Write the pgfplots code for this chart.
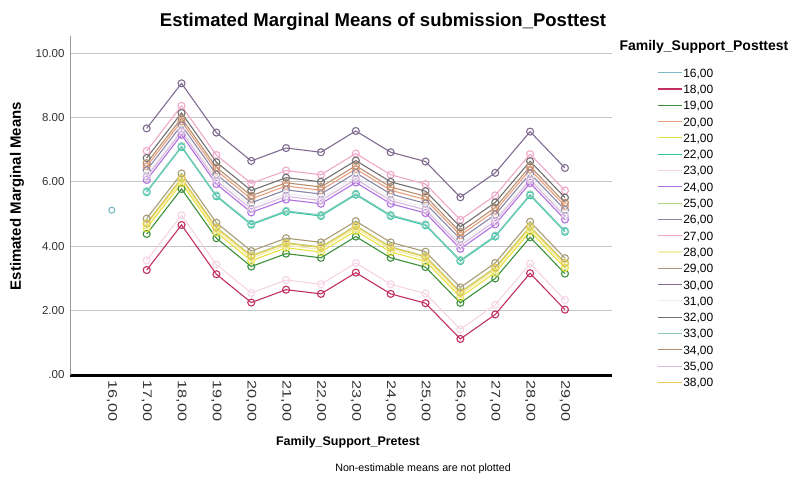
\documentclass[border=0pt]{standalone}
\usepackage{pgfplots}
\pgfplotsset{compat=1.18}
\usepackage{fontspec}
\setmainfont{Liberation Sans}
\definecolor{c16}{HTML}{7EB8C8}
\definecolor{c18}{HTML}{C2305E}
\definecolor{c19}{HTML}{3C8F3C}
\definecolor{c20}{HTML}{E8A080}
\definecolor{c21}{HTML}{E8E040}
\definecolor{c22}{HTML}{2CC8A0}
\definecolor{c23}{HTML}{F5D5E5}
\definecolor{c24}{HTML}{B070E0}
\definecolor{c25}{HTML}{A8D888}
\definecolor{c26}{HTML}{8888A8}
\definecolor{c27}{HTML}{F0A8C8}
\definecolor{c28}{HTML}{F0EEB0}
\definecolor{c29}{HTML}{A89C78}
\definecolor{c30}{HTML}{806C90}
\definecolor{c31}{HTML}{EEEEEE}
\definecolor{c32}{HTML}{707070}
\definecolor{c33}{HTML}{8CCCC0}
\definecolor{c34}{HTML}{B89070}
\definecolor{c35}{HTML}{D8B8E0}
\definecolor{c38}{HTML}{ECC850}
\begin{document}
\begin{tikzpicture}
\useasboundingbox (0pt,0pt) rectangle (790pt,-479pt);
\begin{axis}[
  scale only axis, width=542pt, height=339pt,
  anchor=south west, at={(70pt,-375pt)},
  xmin=14.8, xmax=30.35, ymin=0, ymax=10.53,
  axis x line*=bottom, axis y line*=left,
  x axis line style={black, line width=3pt, -},
  y axis line style={gray!80, line width=0.8pt, -},
  xtick={16,...,29},
  xticklabels={{16,00},{17,00},{18,00},{19,00},{20,00},{21,00},{22,00},{23,00},{24,00},{25,00},{26,00},{27,00},{28,00},{29,00}},
  x tick label style={rotate=-90, xscale=1.3, anchor=west, font=\fontsize{12.5}{12.5}\selectfont, color=black!80},
  xticklabel shift=1pt,
  ytick={0,2,4,6,8,10},
  yticklabels={.00,2.00,4.00,6.00,8.00,10.00},
  y tick label style={font=\fontsize{11.5}{11.5}\selectfont, color=black!80},
  yticklabel shift=2pt,
  major tick length=0pt,
  ymajorgrids, grid style={gray!45, line width=1pt},
  legend cell align=left,
  legend style={at={(1.083,0.9086)}, anchor=north west, draw=none, fill=none,
    font=\fontsize{12}{12}\selectfont, row sep=5.3pt, inner sep=0pt,
    nodes={inner sep=1pt, text height=9pt, text depth=0pt}},
  legend image code/.code={\draw[#1, mark=none, line width=0.8pt] (0pt,0pt) -- (21pt,0pt); \path (0pt,0pt) -- (24pt,0pt);},
  every axis plot/.append style={line width=1.1pt, mark=o, mark size=3.5pt, mark options={solid}},
]
\addplot[c16, only marks, mark size=3pt] coordinates {(16,5.12)};
\addlegendentry{16,00}
\addplot[c18] coordinates {(17,3.26)(18,4.66)(19,3.13)(20,2.25)(21,2.65)(22,2.52)(23,3.18)(24,2.52)(25,2.23)(26,1.12)(27,1.88)(28,3.16)(29,2.03)};
\addlegendentry{18,00}
\addplot[c19] coordinates {(17,4.38)(18,5.78)(19,4.25)(20,3.37)(21,3.77)(22,3.64)(23,4.30)(24,3.64)(25,3.35)(26,2.24)(27,3.00)(28,4.28)(29,3.15)};
\addlegendentry{19,00}
\addplot[c20] coordinates {(17,6.48)(18,7.88)(19,6.35)(20,5.47)(21,5.87)(22,5.74)(23,6.40)(24,5.74)(25,5.45)(26,4.34)(27,5.10)(28,6.38)(29,5.25)};
\addlegendentry{20,00}
\addplot[c21] coordinates {(17,4.56)(18,5.96)(19,4.43)(20,3.55)(21,3.95)(22,3.82)(23,4.48)(24,3.82)(25,3.53)(26,2.42)(27,3.18)(28,4.46)(29,3.33)};
\addlegendentry{21,00}
\addplot[c22] coordinates {(17,5.68)(18,7.08)(19,5.55)(20,4.67)(21,5.07)(22,4.94)(23,5.60)(24,4.94)(25,4.65)(26,3.54)(27,4.30)(28,5.58)(29,4.45)};
\addlegendentry{22,00}
\addplot[c23] coordinates {(17,3.56)(18,4.96)(19,3.43)(20,2.55)(21,2.95)(22,2.82)(23,3.48)(24,2.82)(25,2.53)(26,1.42)(27,2.18)(28,3.46)(29,2.33)};
\addlegendentry{23,00}
\addplot[c24] coordinates {(17,6.06)(18,7.46)(19,5.93)(20,5.05)(21,5.45)(22,5.32)(23,5.98)(24,5.32)(25,5.03)(26,3.92)(27,4.68)(28,5.96)(29,4.83)};
\addlegendentry{24,00}
\addplot[c25] coordinates {(17,4.72)(18,6.12)(19,4.59)(20,3.71)(21,4.11)(22,3.98)(23,4.64)(24,3.98)(25,3.69)(26,2.58)(27,3.34)(28,4.62)(29,3.49)};
\addlegendentry{25,00}
\addplot[c26] coordinates {(17,6.36)(18,7.76)(19,6.23)(20,5.35)(21,5.75)(22,5.62)(23,6.28)(24,5.62)(25,5.33)(26,4.22)(27,4.98)(28,6.26)(29,5.13)};
\addlegendentry{26,00}
\addplot[c27] coordinates {(17,6.96)(18,8.36)(19,6.83)(20,5.95)(21,6.35)(22,6.22)(23,6.88)(24,6.22)(25,5.93)(26,4.82)(27,5.58)(28,6.86)(29,5.73)};
\addlegendentry{27,00}
\addplot[c28] coordinates {(17,4.64)(18,6.04)(19,4.51)(20,3.63)(21,4.03)(22,3.90)(23,4.56)(24,3.90)(25,3.61)(26,2.50)(27,3.26)(28,4.54)(29,3.41)};
\addlegendentry{28,00}
\addplot[c29] coordinates {(17,4.86)(18,6.26)(19,4.73)(20,3.85)(21,4.25)(22,4.12)(23,4.78)(24,4.12)(25,3.83)(26,2.72)(27,3.48)(28,4.76)(29,3.63)};
\addlegendentry{29,00}
\addplot[c30] coordinates {(17,7.66)(18,9.06)(19,7.53)(20,6.65)(21,7.05)(22,6.92)(23,7.58)(24,6.92)(25,6.63)(26,5.52)(27,6.28)(28,7.56)(29,6.43)};
\addlegendentry{30,00}
\addplot[c31] coordinates {(17,6.24)(18,7.64)(19,6.11)(20,5.23)(21,5.63)(22,5.50)(23,6.16)(24,5.50)(25,5.21)(26,4.10)(27,4.86)(28,6.14)(29,5.01)};
\addlegendentry{31,00}
\addplot[c32] coordinates {(17,6.74)(18,8.14)(19,6.61)(20,5.73)(21,6.13)(22,6.00)(23,6.66)(24,6.00)(25,5.71)(26,4.60)(27,5.36)(28,6.64)(29,5.51)};
\addlegendentry{32,00}
\addplot[c33] coordinates {(17,5.71)(18,7.11)(19,5.58)(20,4.70)(21,5.10)(22,4.97)(23,5.63)(24,4.97)(25,4.68)(26,3.57)(27,4.33)(28,5.61)(29,4.48)};
\addlegendentry{33,00}
\addplot[c34] coordinates {(17,6.58)(18,7.98)(19,6.45)(20,5.57)(21,5.97)(22,5.84)(23,6.50)(24,5.84)(25,5.55)(26,4.44)(27,5.20)(28,6.48)(29,5.35)};
\addlegendentry{34,00}
\addplot[c35] coordinates {(17,6.16)(18,7.56)(19,6.03)(20,5.15)(21,5.55)(22,5.42)(23,6.08)(24,5.42)(25,5.13)(26,4.02)(27,4.78)(28,6.06)(29,4.93)};
\addlegendentry{35,00}
\addplot[c38] coordinates {(17,4.70)(18,6.10)(19,4.57)(20,3.69)(21,4.09)(22,3.96)(23,4.62)(24,3.96)(25,3.67)(26,2.56)(27,3.32)(28,4.60)(29,3.47)};
\addlegendentry{38,00}
\end{axis}
\node[font=\bfseries\fontsize{18.5}{18.5}\selectfont] at (383pt,-22pt) {Estimated Marginal Means of submission\_Posttest};
\node[font=\bfseries\fontsize{15}{15}\selectfont, rotate=90] at (17pt,-196pt) {Estimated Marginal Means};
\node[font=\bfseries\fontsize{14}{14}\selectfont, anchor=west] at (616pt,-47pt) {Family\_Support\_Posttest};
\node[font=\bfseries\fontsize{12.5}{12.5}\selectfont] at (348pt,-442pt) {Family\_Support\_Pretest};
\node[font=\fontsize{10.7}{10.7}\selectfont] at (423pt,-469pt) {Non-estimable means are not plotted};
\end{tikzpicture}
\end{document}
